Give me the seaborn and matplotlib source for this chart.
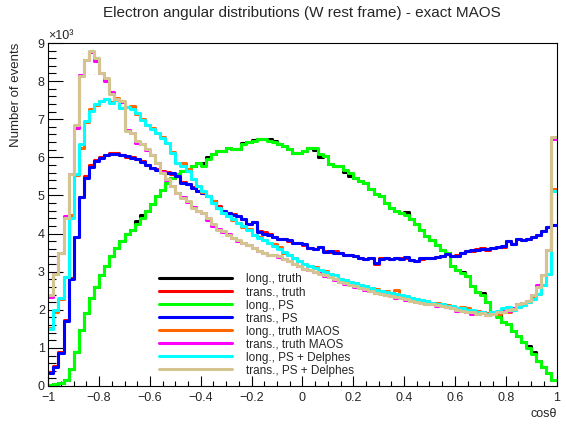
"""
Electron angular distributions in the W rest frame (exact MAOS)
"""

import numpy as np
import pandas as pd
import matplotlib
matplotlib.use("Agg")
import matplotlib.pyplot as plt
from matplotlib.ticker import MultipleLocator
from matplotlib.lines import Line2D
import seaborn as sns

# ----------------------------
# Data: events per bin (x10^3), 100 bins of cos(theta) from -1 to 1
# ----------------------------
long_truth = [0.03, 0.04, 0.07, 0.16, 0.44, 0.88, 1.47, 1.91, 2.30, 2.60,
              2.92, 3.16, 3.40, 3.62, 3.80, 3.98, 4.10, 4.32, 4.48, 4.60,
              4.78, 4.98, 5.15, 5.32, 5.45, 5.55, 5.64, 5.64, 5.77, 5.86,
              5.85, 6.00, 6.08, 6.17, 6.17, 6.25, 6.21, 6.21, 6.38, 6.39,
              6.46, 6.47, 6.49, 6.47, 6.44, 6.34, 6.30, 6.21, 6.12, 6.12,
              6.17, 6.25, 6.20, 6.02, 6.04, 5.82, 5.77, 5.77, 5.62, 5.52,
              5.46, 5.38, 5.33, 5.16, 5.03, 4.98, 4.81, 4.68, 4.59, 4.54,
              4.56, 4.37, 4.24, 4.10, 3.93, 3.84, 3.71, 3.58, 3.49, 3.14,
              3.05, 3.00, 2.88, 2.62, 2.46, 2.44, 2.20, 1.88, 1.86, 1.69,
              1.62, 1.45, 1.30, 1.15, 1.04, 0.88, 0.65, 0.50, 0.33, 0.15]

trans_truth = [0.36, 0.52, 0.88, 1.72, 2.84, 3.91, 4.96, 5.50, 5.80, 5.92,
               6.00, 6.06, 6.11, 6.12, 6.06, 6.02, 6.00, 5.96, 5.90, 5.81,
               5.73, 5.69, 5.63, 5.61, 5.57, 5.51, 5.34, 5.30, 5.21, 5.12,
               5.06, 4.99, 4.86, 4.72, 4.60, 4.55, 4.51, 4.45, 4.38, 4.25,
               4.31, 4.07, 4.03, 3.98, 3.91, 3.87, 3.86, 3.81, 3.76, 3.75,
               3.71, 3.63, 3.59, 3.65, 3.54, 3.51, 3.53, 3.48, 3.44, 3.45,
               3.41, 3.37, 3.33, 3.36, 3.21, 3.36, 3.35, 3.34, 3.37, 3.35,
               3.37, 3.31, 3.29, 3.34, 3.35, 3.37, 3.39, 3.41, 3.46, 3.41,
               3.43, 3.49, 3.54, 3.55, 3.59, 3.61, 3.58, 3.62, 3.66, 3.66,
               3.80, 3.73, 3.85, 3.83, 3.87, 3.91, 3.97, 4.07, 4.18, 4.22]

long_ps = [0.03, 0.04, 0.07, 0.16, 0.44, 0.88, 1.47, 1.91, 2.30, 2.60,
           2.92, 3.16, 3.40, 3.62, 3.80, 3.98, 4.10, 4.25, 4.42, 4.60,
           4.78, 4.98, 5.15, 5.32, 5.45, 5.55, 5.64, 5.64, 5.77, 5.86,
           5.77, 5.95, 6.08, 6.17, 6.17, 6.25, 6.21, 6.21, 6.34, 6.39,
           6.43, 6.47, 6.49, 6.43, 6.39, 6.34, 6.30, 6.21, 6.12, 6.12,
           6.17, 6.25, 6.25, 6.08, 6.04, 5.82, 5.77, 5.77, 5.68, 5.60,
           5.46, 5.38, 5.33, 5.16, 5.03, 4.98, 4.81, 4.68, 4.59, 4.54,
           4.50, 4.37, 4.24, 4.10, 3.93, 3.84, 3.71, 3.58, 3.49, 3.14,
           3.05, 2.96, 2.88, 2.62, 2.46, 2.40, 2.20, 1.88, 1.82, 1.69,
           1.62, 1.45, 1.30, 1.15, 1.00, 0.85, 0.65, 0.50, 0.33, 0.15]

trans_ps = [0.35, 0.50, 0.87, 1.70, 2.80, 3.90, 4.95, 5.45, 5.75, 5.90,
            5.99, 6.07, 6.10, 6.09, 6.05, 6.03, 5.99, 5.95, 5.87, 5.80,
            5.72, 5.68, 5.62, 5.60, 5.58, 5.50, 5.33, 5.29, 5.20, 5.11,
            5.07, 4.98, 4.85, 4.68, 4.59, 4.54, 4.50, 4.46, 4.37, 4.24,
            4.30, 4.05, 4.00, 3.97, 3.90, 3.86, 3.85, 3.82, 3.75, 3.74,
            3.72, 3.62, 3.60, 3.66, 3.52, 3.53, 3.50, 3.50, 3.43, 3.44,
            3.42, 3.36, 3.34, 3.35, 3.22, 3.34, 3.36, 3.33, 3.36, 3.34,
            3.38, 3.30, 3.28, 3.35, 3.36, 3.36, 3.38, 3.40, 3.47, 3.40,
            3.42, 3.50, 3.53, 3.56, 3.58, 3.60, 3.59, 3.61, 3.64, 3.68,
            3.81, 3.72, 3.86, 3.82, 3.86, 3.92, 3.96, 4.08, 4.17, 4.23]

long_truth_maos = [1.52, 1.95, 2.28, 2.86, 4.50, 5.53, 6.25, 6.93, 7.28, 7.38,
                   7.48, 7.52, 7.44, 7.55, 7.30, 7.32, 7.35, 7.15, 7.00, 6.84,
                   6.76, 6.64, 6.53, 6.37, 6.13, 5.86, 5.85, 5.70, 5.43, 5.26,
                   5.10, 4.99, 4.86, 4.67, 4.55, 4.47, 4.36, 4.29, 4.18, 4.11,
                   3.96, 3.90, 3.83, 3.76, 3.72, 3.66, 3.50, 3.45, 3.37, 3.27,
                   3.21, 3.14, 3.11, 3.04, 3.01, 2.94, 2.91, 2.81, 2.79, 2.73,
                   2.71, 2.65, 2.63, 2.56, 2.54, 2.49, 2.48, 2.44, 2.52, 2.37,
                   2.36, 2.31, 2.29, 2.25, 2.23, 2.18, 2.17, 2.14, 2.12, 2.11,
                   2.04, 2.06, 2.05, 1.98, 1.96, 1.93, 1.91, 1.93, 1.90, 1.95,
                   1.95, 2.01, 2.07, 2.13, 2.20, 2.30, 2.41, 2.65, 2.94, 5.17]

trans_truth_maos = [2.33, 2.94, 3.48, 4.45, 5.55, 6.77, 8.15, 8.55, 8.77, 8.52,
                    8.22, 8.00, 7.72, 7.51, 7.46, 6.72, 6.64, 6.38, 6.35, 6.20,
                    6.06, 5.84, 5.61, 5.41, 5.26, 5.06, 4.95, 4.84, 4.69, 4.58,
                    4.53, 4.35, 4.20, 4.11, 4.05, 3.98, 3.88, 3.80, 3.76, 3.70,
                    3.63, 3.53, 3.50, 3.44, 3.44, 3.39, 3.33, 3.28, 3.19, 3.15,
                    3.07, 3.05, 2.98, 2.96, 2.89, 2.87, 2.79, 2.74, 2.68, 2.67,
                    2.61, 2.59, 2.53, 2.50, 2.44, 2.43, 2.38, 2.37, 2.32, 2.31,
                    2.26, 2.25, 2.20, 2.20, 2.15, 2.15, 2.11, 2.11, 2.06, 2.05,
                    1.98, 1.97, 1.94, 1.90, 1.89, 1.93, 1.87, 1.91, 1.94, 1.96,
                    1.98, 2.04, 2.15, 2.19, 2.22, 2.39, 2.64, 2.91, 3.58, 6.47]

long_ps_delphes = [1.50, 2.00, 2.30, 2.85, 4.40, 5.55, 6.34, 6.95, 7.22, 7.39,
                   7.47, 7.54, 7.42, 7.50, 7.29, 7.33, 7.28, 7.16, 6.99, 6.85,
                   6.75, 6.65, 6.52, 6.38, 6.12, 5.85, 5.77, 5.64, 5.42, 5.25,
                   5.11, 4.98, 4.81, 4.68, 4.54, 4.46, 4.37, 4.28, 4.19, 4.10,
                   3.97, 3.89, 3.84, 3.75, 3.67, 3.60, 3.52, 3.44, 3.36, 3.28,
                   3.20, 3.15, 3.10, 3.05, 3.00, 2.95, 2.90, 2.82, 2.78, 2.74,
                   2.70, 2.66, 2.62, 2.57, 2.53, 2.50, 2.47, 2.44, 2.41, 2.38,
                   2.35, 2.32, 2.28, 2.26, 2.22, 2.19, 2.16, 2.15, 2.11, 2.10,
                   2.05, 2.05, 2.00, 1.99, 1.95, 1.94, 1.90, 1.94, 1.96, 2.05,
                   2.06, 2.00, 2.08, 2.12, 2.21, 2.29, 2.42, 2.64, 2.95, 5.12]

trans_ps_delphes = [2.40, 2.95, 3.50, 4.40, 5.56, 6.86, 8.13, 8.56, 8.78, 8.60,
                    8.21, 8.08, 7.65, 7.52, 7.47, 6.69, 6.65, 6.43, 6.34, 6.21,
                    6.05, 5.85, 5.60, 5.42, 5.25, 5.07, 4.94, 4.85, 4.68, 4.59,
                    4.54, 4.41, 4.24, 4.10, 4.06, 3.97, 3.89, 3.84, 3.75, 3.71,
                    3.62, 3.54, 3.49, 3.45, 3.45, 3.40, 3.34, 3.27, 3.20, 3.14,
                    3.08, 3.04, 2.99, 2.95, 2.90, 2.86, 2.80, 2.73, 2.69, 2.66,
                    2.62, 2.58, 2.54, 2.49, 2.45, 2.42, 2.39, 2.36, 2.33, 2.30,
                    2.27, 2.24, 2.21, 2.19, 2.16, 2.14, 2.12, 2.10, 2.07, 2.04,
                    1.99, 1.98, 1.95, 1.94, 1.90, 1.92, 1.86, 1.90, 1.95, 1.95,
                    1.99, 2.03, 2.16, 2.18, 2.23, 2.38, 2.60, 2.90, 3.56, 6.53]

labels = ["long., truth", "trans., truth", "long., PS", "trans., PS",
          "long., truth MAOS", "trans., truth MAOS",
          "long., PS + Delphes", "trans., PS + Delphes"]
colors = ["#000000", "#ff0000", "#00ff00", "#0000ff",
          "#ff6600", "#ff00ff", "#00ffff", "#d4c48f"]
series = [long_truth, trans_truth, long_ps, trans_ps,
          long_truth_maos, trans_truth_maos, long_ps_delphes, trans_ps_delphes]

edges = np.linspace(-1, 1, 101)
centers = 0.5 * (edges[:-1] + edges[1:])

sns.set_style("white")
plt.rcParams["font.family"] = ["Liberation Sans", "DejaVu Sans"]

fig = plt.figure(figsize=(5.66, 4.24), dpi=100)
ax = fig.add_axes([48.3 / 566, 1 - 386 / 424, (556.5 - 48.3) / 566, (386 - 43) / 424])

lw = 2.2
for vals, lab, col in zip(series, labels, colors):
    df = pd.DataFrame({"cos": centers, "events": vals})
    sns.histplot(data=df, x="cos", weights="events", bins=edges.tolist(),
                 element="step", fill=False, color=col, linewidth=lw, ax=ax)

ax.set_xlim(-1, 1)
ax.set_ylim(0, 9)
ax.xaxis.set_minor_locator(MultipleLocator(0.05))
ax.yaxis.set_major_locator(MultipleLocator(1))
ax.yaxis.set_minor_locator(MultipleLocator(0.2))
ax.set_xticks([-1, -0.8, -0.6, -0.4, -0.2, 0, 0.2, 0.4, 0.6, 0.8, 1])
ax.set_xticklabels(["\u22121", "\u22120.8", "\u22120.6", "\u22120.4", "\u22120.2",
                    "0", "0.2", "0.4", "0.6", "0.8", "1"])
ax.tick_params(axis="both", which="both", direction="in", width=0.8,
               labelsize=9, bottom=True, left=True, top=False, right=False,
               color="black")
ax.tick_params(axis="x", which="major", length=7.5, pad=4)
ax.tick_params(axis="x", which="minor", length=3.8)
ax.tick_params(axis="y", which="major", length=11, pad=2.5)
ax.tick_params(axis="y", which="minor", length=5.5)
for sp in ax.spines.values():
    sp.set_linewidth(0.8)
    sp.set_color("black")

ax.set_xlabel("cos\u03b8", fontsize=9, loc="right", labelpad=3)
ax.set_ylabel("Number of events", fontsize=9.5, loc="top")
ax.yaxis.set_label_coords(-0.052, 1.0)
ax.text(0.0, 1.004, "\u00d710\u00b3", transform=ax.transAxes,
        ha="left", va="bottom", fontsize=9)

fig.text(302 / 566, 1 - 13.5 / 424,
         "Electron angular distributions (W rest frame) - exact MAOS",
         ha="center", va="center", fontsize=11)

handles = [Line2D([0], [0], color=c, lw=lw) for c in colors]
ax.legend(handles, labels, loc="upper left", bbox_to_anchor=(0.218, 0.328),
          frameon=False, fontsize=8.5, handlelength=6.2, handletextpad=1.2,
          labelspacing=0.085, borderaxespad=0, borderpad=0)

fig.savefig("out.png", dpi=100)
